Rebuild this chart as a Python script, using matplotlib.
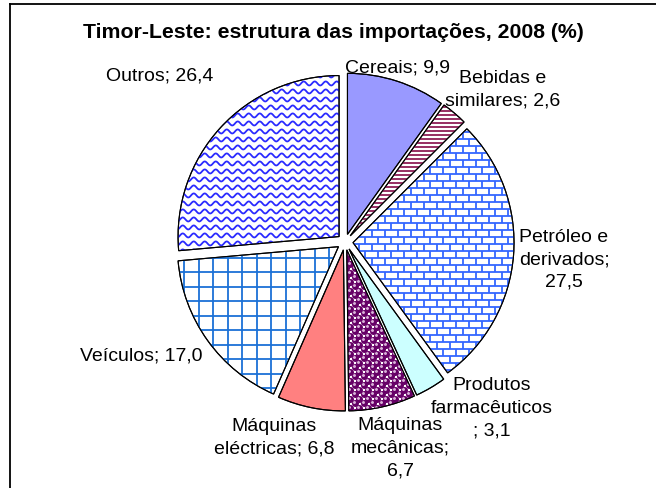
import numpy as np
import matplotlib
matplotlib.use("Agg")
import matplotlib.pyplot as plt
import matplotlib.patches as mpatches
from matplotlib.collections import LineCollection

plt.rcParams['font.family'] = ['Liberation Sans', 'DejaVu Sans']

# data
categories = ["Cereais", "Bebidas e\nsimilares", "Petróleo e\nderivados", "Produtos\nfarmacêuticos\n",
              "Máquinas\nmecânicas", "Máquinas\neléctricas", "Veículos", "Outros"]
shares = [9.9, 2.6, 27.5, 3.1, 6.7, 6.8, 17.0, 26.4]
value_labels = ["9,9", "2,6", "27,5", "3,1", "6,7", "6,8", "17,0", "26,4"]

# label text with the original line breaks
label_texts = [
    "Cereais; 9,9",
    "Bebidas e\nsimilares; 2,6",
    "Petróleo e\nderivados;\n27,5",
    "Produtos\nfarmacêuticos\n; 3,1",
    "Máquinas\nmecânicas;\n6,7",
    "Máquinas\neléctricas; 6,8",
    "Veículos; 17,0",
    "Outros; 26,4",
]
# label anchor positions (pie radius units)
label_pos = [(0.325, 1.08), (0.976, 0.947), (1.36, -0.112), (0.909, -1.033),
             (0.344, -1.282), (-0.44, -1.215), (-1.263, -0.708), (-1.148, 1.033)]

W, H = 656, 488
fig = plt.figure(figsize=(W / 100, H / 100), dpi=100)

# outer frame (only top and left visible)
fig.add_artist(plt.Line2D([10 / W, 1.01], [1 - 4 / H, 1 - 4 / H], color='black', lw=1.3,
                          transform=fig.transFigure))
fig.add_artist(plt.Line2D([10 / W, 10 / W], [-0.01, 1 - 4 / H], color='black', lw=1.3,
                          transform=fig.transFigure))

fig.text(333 / W, 1 - 33 / H, "Timor-Leste: estrutura das importações, 2008 (%)",
         ha='center', va='center', fontsize=15.3, fontweight='bold')

cx, cy, R = 345, 242, 161
lim = 1.45
side = 2 * lim * R
ax = fig.add_axes([(cx - side / 2) / W, (H - cy - side / 2) / H, side / W, side / H])
u = 2 * lim / side  # one pixel in data units

face = ['#9999FF', 'white', 'white', '#CCFFFF', 'white', '#FF8080', 'white', 'white']
wedges, _ = ax.pie(shares, colors=face, startangle=90, counterclock=False,
                   explode=[0.05] * len(shares), radius=1,
                   wedgeprops=dict(edgecolor='black', linewidth=0.8))
ax.axis('off')


def clip_add(coll, wedge):
    ax.add_collection(coll, autolim=False)
    coll.set_clip_path(wedge)
    coll.set_zorder(wedge.get_zorder() + 0.3)


def stripes(wedge, color, step, lw):
    ys = np.arange(-lim, lim, step * u)
    segs = [[(-lim, y), (lim, y)] for y in ys]
    clip_add(LineCollection(segs, colors=color, linewidths=lw * 0.72), wedge)


def grid(wedge, color, step, lw):
    vs = np.arange(-lim, lim, step * u)
    segs = [[(-lim, v), (lim, v)] for v in vs] + [[(v, -lim), (v, lim)] for v in vs]
    clip_add(LineCollection(segs, colors=color, linewidths=lw * 0.72), wedge)


def bricks(wedge, color, bw, bh, lw):
    segs = []
    rows = np.arange(-lim, lim, bh * u)
    for i, y in enumerate(rows):
        segs.append([(-lim, y), (lim, y)])
        off = (i % 2) * bw / 2 * u
        for x in np.arange(-lim + off, lim, bw * u):
            segs.append([(x, y), (x, y + bh * u)])
    clip_add(LineCollection(segs, colors=color, linewidths=lw * 0.72), wedge)


def waves(wedge, color, step, wl, amp, lw):
    xs = np.linspace(-lim, lim, 1500)
    segs = []
    for y in np.arange(-lim, lim, step * u):
        segs.append(np.column_stack([xs, y + amp * u * np.sin(2 * np.pi * xs / (wl * u))]))
    clip_add(LineCollection(segs, colors=color, linewidths=lw * 0.72), wedge)


def balls(wedge, color, step, diam):
    pts = []
    for i, y in enumerate(np.arange(-lim, lim, step * u / 2)):
        off = (i % 2) * step * u / 2
        for x in np.arange(-lim + off, lim, step * u):
            pts.append((x, y))
    pts = np.array(pts)
    s1 = ax.scatter(pts[:, 0], pts[:, 1], s=(diam * 0.72) ** 2, c=color, linewidths=0)
    s2 = ax.scatter(pts[:, 0] - 1.0 * u, pts[:, 1] + 1.0 * u, s=(diam * 0.3) ** 2, c='#d9b3d9',
                    linewidths=0)
    for s, z in ((s1, 0.3), (s2, 0.35)):
        s.set_clip_path(wedge)
        s.set_zorder(wedge.get_zorder() + z)


stripes(wedges[1], '#993366', 4, 2.0)
bricks(wedges[2], '#3366FF', 13, 7, 1.8)
balls(wedges[4], '#660066', 9, 7.0)
grid(wedges[6], '#1a70d6', 14.5, 1.8)
waves(wedges[7], '#2a2aff', 8, 11, 2.0, 1.8)

# outlines on top of the patterns
for w in wedges:
    ax.add_patch(mpatches.Wedge(w.center, w.r, w.theta1, w.theta2, fill=False,
                                edgecolor='black', linewidth=0.8, zorder=w.get_zorder() + 1))

ax.set_xlim(-lim, lim)
ax.set_ylim(-lim, lim)

for txt, (x, y) in zip(label_texts, label_pos):
    ax.text(x, y, txt, ha='center', va='center', fontsize=14, linespacing=1.42)

fig.savefig("out.png", dpi=100)
